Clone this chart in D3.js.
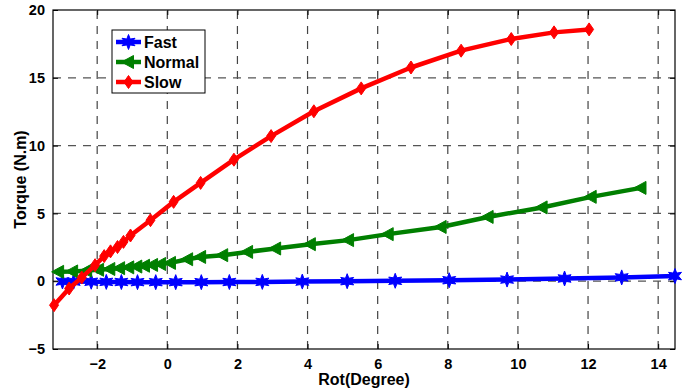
<!DOCTYPE html>
<html>
<head>
<meta charset="utf-8">
<script src="https://cdn.jsdelivr.net/npm/d3@7"></script>
<style>
  body { margin: 0; background: #fff; }
  text { font-family: "Liberation Sans", Arial, sans-serif; font-weight: bold; }
</style>
</head>
<body>
<div id="chart"></div>
<script>
const width = 686, height = 391;

// values
const fastX = [-2.99, -2.67, -2.17, -1.74, -1.31, -0.85, -0.33, 0.24, 0.97, 1.77, 2.71, 3.85, 5.13, 6.50, 8.04, 9.69, 11.33, 12.96, 14.48];
const fastY = [-0.02, -0.03, -0.04, -0.05, -0.06, -0.07, -0.07, -0.07, -0.07, -0.06, -0.05, -0.03, 0.0, 0.03, 0.07, 0.12, 0.2, 0.28, 0.38];

const normalX = [-3.10, -2.70, -2.30, -1.96, -1.64, -1.36, -1.10, -0.87, -0.65, -0.42, -0.19, 0.09, 0.58, 0.95, 1.58, 2.29, 3.09, 4.08, 5.17, 6.30, 7.81, 9.15, 10.69, 12.09, 13.51];
const normalY = [0.69, 0.72, 0.78, 0.84, 0.90, 0.96, 1.02, 1.08, 1.14, 1.20, 1.27, 1.35, 1.62, 1.79, 1.92, 2.16, 2.41, 2.73, 3.03, 3.47, 4.0, 4.74, 5.44, 6.22, 6.88];

const slowX = [-3.23, -2.80, -2.44, -2.06, -1.80, -1.62, -1.42, -1.25, -1.05, -0.48, 0.18, 0.95, 1.90, 2.96, 4.18, 5.53, 6.95, 8.38, 9.81, 11.03, 12.03];
const slowY = [-1.77, -0.54, 0.27, 1.18, 1.85, 2.2, 2.52, 2.9, 3.37, 4.5, 5.85, 7.25, 8.96, 10.70, 12.53, 14.22, 15.76, 17.0, 17.86, 18.35, 18.57];

const xTicks = [-2, 0, 2, 4, 6, 8, 10, 12, 14];
const yTicks = [-5, 0, 5, 10, 15, 20];

const seriesNames = ['Fast', 'Normal', 'Slow'];
const seriesColors = ['#0000ff', '#007f00', '#ff0000'];

const series = [
    { name: seriesNames[0], color: seriesColors[0], marker: 'hexagram', pts: fastX.map((x, i) => [x, fastY[i]]) },
    { name: seriesNames[1], color: seriesColors[1], marker: 'triLeft', pts: normalX.map((x, i) => [x, normalY[i]]) },
    { name: seriesNames[2], color: seriesColors[2], marker: 'diamond', pts: slowX.map((x, i) => [x, slowY[i]]) }
];

const margin = { left: 53, right: 11, top: 10, bottom: 42 };
const x = d3.scaleLinear().domain([-3.26, 14.48]).range([margin.left, width - margin.right]);
const y = d3.scaleLinear().domain([-5, 20]).range([height - margin.bottom, margin.top]);

const svg = d3.select('#chart').append('svg')
    .attr('width', width)
    .attr('height', height);

// marker shapes
function markerPath(type) {
    if (type === 'hexagram') {
        let p = [];
        for (let k = 0; k < 12; k++) {
            const a = Math.PI / 2 + k * Math.PI / 6;
            const r = k % 2 === 0 ? 7.5 : 3.4;
            p.push([r * Math.cos(a), -r * Math.sin(a)]);
        }
        return 'M' + p.join('L') + 'Z';
    }
    if (type === 'triLeft') {
        return 'M-7,0L5,-6.5L5,6.5Z';
    }
    return 'M0,-6.5L4.5,0L0,6.5L-4.5,0Z';
}

// grid
const grid = svg.append('g').attr('class', 'grid');
grid.selectAll('line.vx')
    .data(xTicks)
    .enter().append('line')
    .attr('x1', d => x(d)).attr('x2', d => x(d))
    .attr('y1', y(-5)).attr('y2', y(20))
    .attr('stroke', '#444').attr('stroke-width', 1.2)
    .attr('stroke-dasharray', '8,7');
grid.selectAll('line.hy')
    .data(yTicks.filter(d => d > -5 && d < 20))
    .enter().append('line')
    .attr('y1', d => y(d)).attr('y2', d => y(d))
    .attr('x1', x.range()[0]).attr('x2', x.range()[1])
    .attr('stroke', '#555').attr('stroke-width', 1.2)
    .attr('stroke-dasharray', '8,7');

// axes (inside ticks on all four sides)
const axisFont = g => g.selectAll('text')
    .style('font-size', '14.5px')
    .style('font-family', '"Liberation Sans", Arial, sans-serif')
    .style('font-weight', 'bold')
    .attr('fill', '#000');

svg.append('g')
    .attr('transform', `translate(0,${y(-5)})`)
    .call(d3.axisBottom(x).tickValues(xTicks).tickSizeInner(-5).tickSizeOuter(0).tickPadding(10))
    .call(g => g.select('.domain').remove())
    .call(axisFont);
svg.append('g')
    .attr('transform', `translate(0,${y(20)})`)
    .call(d3.axisTop(x).tickValues(xTicks).tickSizeInner(-5).tickSizeOuter(0).tickFormat(''))
    .call(g => g.select('.domain').remove());
svg.append('g')
    .attr('transform', `translate(${x.range()[0]},0)`)
    .call(d3.axisLeft(y).tickValues(yTicks).tickSizeInner(-5).tickSizeOuter(0).tickPadding(8))
    .call(g => g.select('.domain').remove())
    .call(axisFont);
svg.append('g')
    .attr('transform', `translate(${x.range()[1]},0)`)
    .call(d3.axisRight(y).tickValues(yTicks).tickSizeInner(-5).tickSizeOuter(0).tickFormat(''))
    .call(g => g.select('.domain').remove());

svg.append('rect')
    .attr('x', x.range()[0]).attr('y', y(20))
    .attr('width', x.range()[1] - x.range()[0])
    .attr('height', y(-5) - y(20))
    .attr('fill', 'none').attr('stroke', '#000').attr('stroke-width', 1.2);

// lines + markers
const line = d3.line().x(d => x(d[0])).y(d => y(d[1]));
const sg = svg.selectAll('g.series')
    .data(series)
    .enter().append('g')
    .attr('class', 'series');
sg.append('path')
    .attr('d', d => line(d.pts))
    .attr('fill', 'none')
    .attr('stroke', d => d.color)
    .attr('stroke-width', 4.5)
    .attr('stroke-linejoin', 'round');
sg.each(function (s) {
    d3.select(this).selectAll('path.mk')
        .data(s.pts)
        .enter().append('path')
        .attr('class', 'mk')
        .attr('transform', d => `translate(${x(d[0])},${y(d[1])})`)
        .attr('d', markerPath(s.marker))
        .attr('fill', s.color)
        .attr('stroke', s.color)
        .attr('stroke-width', 1);
});

// axis titles
svg.append('text')
    .attr('x', (x.range()[0] + x.range()[1]) / 2)
    .attr('y', 385)
    .attr('text-anchor', 'middle')
    .style('font-size', '16px')
    .text('Rot(Degree)');
svg.append('text')
    .attr('transform', `translate(26,${(y(20) + y(-5)) / 2}) rotate(-90)`)
    .attr('text-anchor', 'middle')
    .style('font-size', '16px')
    .text('Torque (N.m)');

// legend
const lg = svg.append('g').attr('transform', 'translate(112,30)');
lg.append('rect')
    .attr('width', 93).attr('height', 63)
    .attr('fill', '#fff').attr('stroke', '#000').attr('stroke-width', 1);
const li = lg.selectAll('g.item')
    .data(series)
    .enter().append('g')
    .attr('transform', (d, i) => `translate(0,${12 + i * 20})`);
li.append('line')
    .attr('x1', 4).attr('x2', 29)
    .attr('stroke', d => d.color).attr('stroke-width', 4.5);
li.append('path')
    .attr('transform', 'translate(16.5,0)')
    .attr('d', d => markerPath(d.marker))
    .attr('fill', d => d.color).attr('stroke', d => d.color);
li.append('text')
    .attr('x', 32).attr('y', 6)
    .style('font-size', '16px')
    .text(d => d.name);
</script>
</body>
</html>
